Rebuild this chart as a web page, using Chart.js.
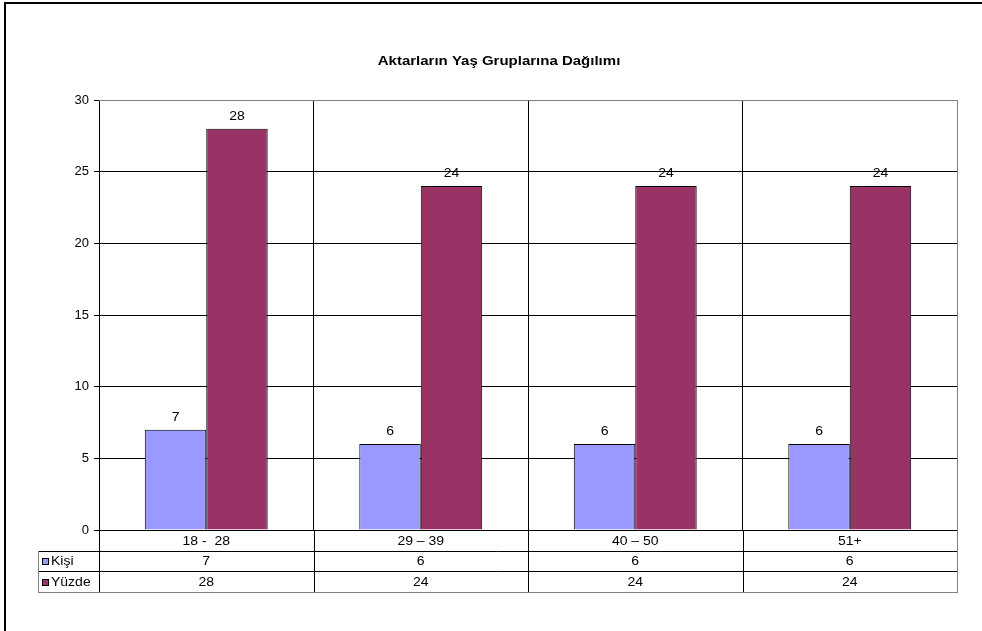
<!DOCTYPE html>
<html>
<head>
<meta charset="utf-8">
<script src="https://cdn.jsdelivr.net/npm/chart.js@4"></script>
<style>
  body { margin: 0; background: #fff; }
  #wrap { width: 982px; height: 631px; }
</style>
</head>
<body>
<div id="wrap"><canvas id="yas-chart" width="982" height="631"></canvas></div>
<script>
// Yaş grupları ve seriler
const chartTitle = 'Aktarların Yaş Gruplarına Dağılımı';
const ageGroups = ['18 -  28', '29 – 39', '40 – 50', '51+'];
const seriesNames = ['Kişi', 'Yüzde'];
const kisiValues = [7, 6, 6, 6];
const yuzdeValues = [28, 24, 24, 24];
const seriesColors = ['#9999FF', '#993366'];

const FONT = 'Arial, "Liberation Sans", sans-serif';
const TXT = '12.5px ' + FONT;
const STRETCH = 1.12; // metinler yatayda biraz geniş

function wideText(ctx, text, x, y) {
  ctx.save();
  ctx.translate(x, y);
  ctx.scale(STRETCH, 1);
  ctx.fillText(text, 0, 0);
  ctx.restore();
}

// çerçeve, başlık
const framePlugin = {
  id: 'frame',
  beforeDraw(chart) {
    const ctx = chart.ctx;
    ctx.save();
    ctx.fillStyle = '#fff';
    ctx.fillRect(0, 0, chart.width, chart.height);
    ctx.strokeStyle = '#000';
    ctx.lineWidth = 2;
    ctx.strokeRect(5, 3, chart.width + 20, chart.height + 20);
    ctx.fillStyle = '#000';
    ctx.font = 'bold 12.5px ' + FONT;
    ctx.textAlign = 'center';
    ctx.textBaseline = 'middle';
    ctx.translate(499, 62);
    ctx.scale(1.2, 1);
    ctx.fillText(chartTitle, 0, 0);
    ctx.restore();
  }
};

// çubuk üstü değer etiketleri
const valueLabels = {
  id: 'valueLabels',
  afterDatasetsDraw(chart) {
    const ctx = chart.ctx;
    ctx.save();
    ctx.fillStyle = '#000';
    ctx.font = TXT;
    ctx.textAlign = 'center';
    ctx.textBaseline = 'alphabetic';
    chart.data.datasets.forEach((ds, i) => {
      chart.getDatasetMeta(i).data.forEach((bar, j) => {
        wideText(ctx, String(ds.data[j]), bar.x, bar.y - 9);
      });
    });
    ctx.restore();
  }
};

// alttaki veri tablosu
const dataTable = {
  id: 'dataTable',
  afterDraw(chart) {
    const ctx = chart.ctx;
    const area = chart.chartArea;
    const x = chart.scales.x;
    const left = area.left, right = area.right;
    const top = area.bottom;
    const rows = [top, top + 21, top + 41, top + 62];
    const legendLeft = 38;
    const colW = (right - left) / ageGroups.length;

    ctx.save();
    ctx.lineWidth = 1;
    // yatay çizgiler
    ctx.strokeStyle = '#000';
    ctx.beginPath();
    ctx.moveTo(left, rows[0] + 0.5); ctx.lineTo(right, rows[0] + 0.5);
    ctx.moveTo(legendLeft, rows[1] + 0.5); ctx.lineTo(right, rows[1] + 0.5);
    ctx.moveTo(legendLeft, rows[2] + 0.5); ctx.lineTo(right, rows[2] + 0.5);
    ctx.stroke();
    ctx.strokeStyle = '#808080';
    ctx.beginPath();
    ctx.moveTo(legendLeft, rows[3] + 0.5); ctx.lineTo(right + 1, rows[3] + 0.5);
    ctx.moveTo(right + 0.5, rows[0]); ctx.lineTo(right + 0.5, rows[3]);
    ctx.moveTo(legendLeft + 0.5, rows[1]); ctx.lineTo(legendLeft + 0.5, rows[3]);
    ctx.stroke();
    // dikey sütun çizgileri
    ctx.strokeStyle = '#000';
    ctx.beginPath();
    ctx.moveTo(left + 0.5, rows[0]); ctx.lineTo(left + 0.5, rows[3]);
    for (let i = 1; i < ageGroups.length; i++) {
      const gx = Math.round(left + colW * i) + 0.5;
      ctx.moveTo(gx, rows[0]); ctx.lineTo(gx, rows[3]);
    }
    ctx.stroke();

    ctx.fillStyle = '#000';
    ctx.font = TXT;
    ctx.textBaseline = 'middle';
    ctx.textAlign = 'center';
    const tableRows = [ageGroups, kisiValues, yuzdeValues];
    tableRows.forEach((row, r) => {
      const cy = (rows[r] + rows[r + 1]) / 2 + 1;
      row.forEach((v, i) => {
        wideText(ctx, String(v), x.getPixelForTick(i), cy);
      });
    });
    // lejant anahtarları
    seriesNames.forEach((name, s) => {
      const cy = (rows[s + 1] + rows[s + 2]) / 2 + 1;
      ctx.fillStyle = seriesColors[s];
      ctx.fillRect(42, Math.round(cy) - 4, 7, 7);
      ctx.strokeStyle = '#000';
      ctx.strokeRect(42.5, Math.round(cy) - 3.5, 6, 6);
      ctx.fillStyle = '#000';
      ctx.textAlign = 'left';
      wideText(ctx, name, 51, cy);
    });
    // plot alanının üst ve sağ kenarı
    ctx.strokeStyle = '#808080';
    ctx.beginPath();
    ctx.moveTo(left, area.top + 0.5); ctx.lineTo(right + 1, area.top + 0.5);
    ctx.moveTo(right + 0.5, area.top); ctx.lineTo(right + 0.5, area.bottom);
    ctx.stroke();
    ctx.restore();
  }
};

new Chart(document.getElementById('yas-chart'), {
  type: 'bar',
  data: {
    labels: ageGroups,
    datasets: [
      { label: seriesNames[0], data: kisiValues, backgroundColor: seriesColors[0], borderColor: '#000', borderWidth: 1 },
      { label: seriesNames[1], data: yuzdeValues, backgroundColor: seriesColors[1], borderColor: '#000', borderWidth: 1 }
    ]
  },
  options: {
    responsive: false,
    animation: false,
    devicePixelRatio: 1,
    layout: { padding: { top: 100, right: 25, left: 0, bottom: 0 } },
    datasets: { bar: { categoryPercentage: 0.573, barPercentage: 1 } },
    plugins: { legend: { display: false }, title: { display: false }, tooltip: { enabled: false } },
    scales: {
      x: {
        offset: true,
        grid: { offset: true, color: '#000', drawTicks: false },
        border: { display: false },
        ticks: { display: false },
        afterFit(s) { s.height = 101; }
      },
      y: {
        min: 0, max: 30,
        ticks: { stepSize: 5, color: '#000', font: { family: FONT, size: 13 }, padding: 5 },
        grid: { color: '#000', tickLength: 5 },
        border: { color: '#000' },
        afterFit(s) { s.width = 99; }
      }
    }
  },
  plugins: [framePlugin, valueLabels, dataTable]
});
</script>
</body>
</html>
